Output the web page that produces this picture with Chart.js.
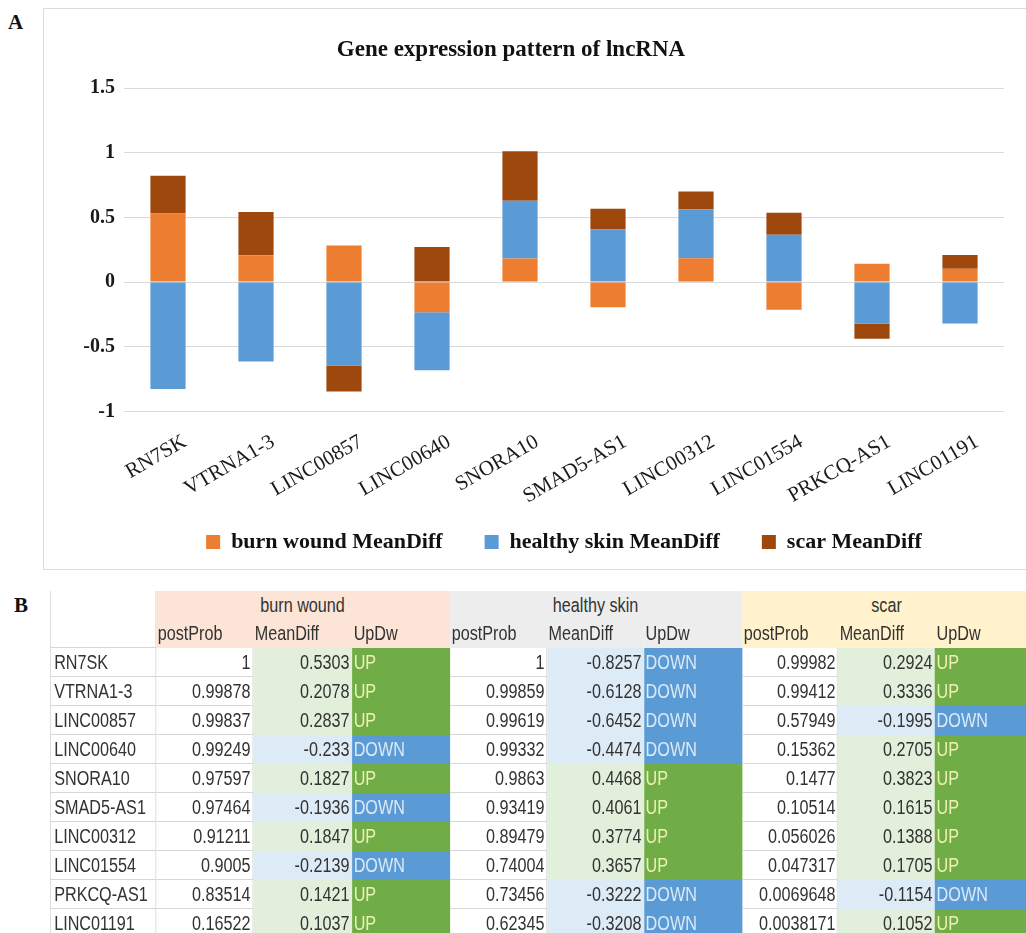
<!DOCTYPE html>
<html>
<head>
<meta charset="utf-8">
<script src="https://cdn.jsdelivr.net/npm/chart.js@4.4.1/dist/chart.umd.min.js"></script>
<style>
  body { margin: 0; width: 1026px; height: 933px; overflow: hidden; position: relative; background: #fff; }
  .panel-tag { position: absolute; font: bold 21px "Liberation Serif", serif; color: #111; }
  #frameA { position: absolute; left: 43px; top: 8px; width: 1000px; height: 560px; border: 1px solid #dcdcdc; }
  #chartWrap { position: absolute; left: 0; top: 0; width: 1004px; height: 563px; }
  /* the sheet font is a narrow one, so the whole table is squeezed horizontally */
  #tbl { position: absolute; left: 50px; top: 591px; border-collapse: separate; border-spacing: 0; table-layout: fixed;
         transform: scaleX(0.83); transform-origin: 0 0;
         font: 19.5px "Liberation Sans", Arial, sans-serif; color: #333; }
  #tbl td { box-sizing: border-box; height: 29px; padding: 0 2px; white-space: nowrap; overflow: hidden;
            border-right: 1px solid #d6d6d6; border-bottom: 1px solid #d6d6d6; line-height: 27px; }
  #tbl td.first { border-left: 1px solid #d6d6d6; padding-left: 4px; }
  #tbl td.num { text-align: right; }
  #tbl tr.sub td { height: 28px; }
</style>
</head>
<body>
<div class="panel-tag" style="left:8px; top:10px;">A</div>
<div id="frameA"></div>
<div id="chartWrap"><canvas id="lncChart"></canvas></div>
<div class="panel-tag" style="left:14px; top:593px;">B</div>
<table id="tbl"></table>

<script>
// lncRNAs, in plotting order
const genes = ['RN7SK', 'VTRNA1-3', 'LINC00857', 'LINC00640', 'SNORA10',
               'SMAD5-AS1', 'LINC00312', 'LINC01554', 'PRKCQ-AS1', 'LINC01191'];

// mean differences per condition
const burnMeanDiff    = [0.5303, 0.2078, 0.2837, -0.233, 0.1827, -0.1936, 0.1847, -0.2139, 0.1421, 0.1037];
const healthyMeanDiff = [-0.8257, -0.6128, -0.6452, -0.4474, 0.4468, 0.4061, 0.3774, 0.3657, -0.3222, -0.3208];
const scarMeanDiff    = [0.2924, 0.3336, -0.1995, 0.2705, 0.3823, 0.1615, 0.1388, 0.1705, -0.1154, 0.1052];

// posterior probabilities per condition
const burnPostProb    = [1, 0.99878, 0.99837, 0.99249, 0.97597, 0.97464, 0.91211, 0.9005, 0.83514, 0.16522];
const healthyPostProb = [1, 0.99859, 0.99619, 0.99332, 0.9863, 0.93419, 0.89479, 0.74004, 0.73456, 0.62345];
const scarPostProb    = [0.99982, 0.99412, 0.57949, 0.15362, 0.1477, 0.10514, 0.056026, 0.047317, 0.0069648, 0.0038171];

const yTicks = [-1, -0.5, 0, 0.5, 1, 1.5];

const serif = '"Liberation Serif", "Times New Roman", serif';

// the x axis box is kept short so the legend sits close under it;
// let the slanted gene names draw past that box instead of being clipped
const labelRoom = {
  id: 'labelRoom',
  beforeDraw(chart) {
    const x = chart.scales.x;
    x.bottom = x.top + 110;
  }
};

new Chart(document.getElementById('lncChart'), {
  type: 'bar',
  data: {
    labels: genes,
    datasets: [
      { label: 'burn wound MeanDiff', data: burnMeanDiff, backgroundColor: '#ed7d31' },
      { label: 'healthy skin MeanDiff', data: healthyMeanDiff, backgroundColor: '#5b9bd5' },
      { label: 'scar MeanDiff', data: scarMeanDiff, backgroundColor: '#9e480e' }
    ]
  },
  plugins: [labelRoom],
  options: {
    responsive: true,
    maintainAspectRatio: false,
    animation: false,
    layout: { padding: { left: 18, top: 0, right: 0, bottom: 0 } },
    datasets: { bar: { categoryPercentage: 1, barPercentage: 0.4 } },
    scales: {
      x: {
        stacked: true,
        grid: { display: false },
        border: { display: false },
        ticks: {
          autoSkip: false, minRotation: 30, maxRotation: 30, padding: 10, labelOffset: 17,
          color: '#1a1a1a', font: { family: serif, size: 21 }
        },
        afterFit: s => { s.height = 77.5; }
      },
      y: {
        stacked: true,
        min: yTicks[0],
        max: yTicks[yTicks.length - 1],
        afterBuildTicks: s => { s.ticks = yTicks.map(v => ({ value: v })); },
        grid: { color: '#d9d9d9', drawTicks: false },
        border: { display: false },
        ticks: {
          padding: 9, color: '#1a1a1a', font: { family: serif, size: 20, weight: 'bold' },
          callback: v => String(v)
        },
        afterFit: s => { s.width = 106; }
      }
    },
    plugins: {
      title: {
        display: true,
        text: 'Gene expression pattern of lncRNA',
        color: '#111',
        font: { family: serif, size: 23, weight: 'bold' },
        padding: { top: 36.2, bottom: 24.2 }
      },
      legend: {
        position: 'bottom',
        fullSize: false,
        labels: {
          boxWidth: 14, boxHeight: 14, padding: 42, color: '#111',
          font: { family: serif, size: 22, weight: 'bold' }
        }
      },
      tooltip: { enabled: false }
    }
  }
});

// summary table below the chart
const groups = [
  { name: 'burn wound', bg: '#fce4d6', prob: burnPostProb, diff: burnMeanDiff },
  { name: 'healthy skin', bg: '#ededed', prob: healthyPostProb, diff: healthyMeanDiff },
  { name: 'scar', bg: '#fff2cc', prob: scarPostProb, diff: scarMeanDiff }
];
const colWidths = [106, 97, 99, 98, 97, 97, 98, 96, 97, 97];
const squeeze = 0.83;

const tbl = document.getElementById('tbl');
tbl.style.width = (colWidths.reduce((a, b) => a + b, 0) / squeeze) + 'px';
const cg = document.createElement('colgroup');
colWidths.forEach(w => { const c = document.createElement('col'); c.style.width = (w / squeeze) + 'px'; cg.appendChild(c); });
tbl.appendChild(cg);

function cell(row, text, opts = {}) {
  const td = document.createElement('td');
  td.textContent = text;
  if (opts.cls) td.className = opts.cls;
  if (opts.bg) { td.style.background = opts.bg; td.style.borderColor = opts.bg; }
  if (opts.color) td.style.color = opts.color;
  if (opts.align) td.style.textAlign = opts.align;
  if (opts.colSpan) td.colSpan = opts.colSpan;
  if (opts.rowSpan) td.rowSpan = opts.rowSpan;
  row.appendChild(td);
  return td;
}

const head1 = tbl.insertRow();
cell(head1, '', { cls: 'first', rowSpan: 2 });
groups.forEach(g => cell(head1, g.name, { bg: g.bg, colSpan: 3, align: 'center' }));
const head2 = tbl.insertRow();
head2.className = 'sub';
groups.forEach(g => ['postProb', 'MeanDiff', 'UpDw'].forEach(h => cell(head2, h, { bg: g.bg })));

genes.forEach((gene, i) => {
  const tr = tbl.insertRow();
  cell(tr, gene, { cls: 'first' });
  groups.forEach(g => {
    const up = g.diff[i] > 0;
    cell(tr, String(g.prob[i]), { cls: 'num' });
    cell(tr, String(g.diff[i]), { cls: 'num', bg: up ? '#e2efda' : '#ddebf7' });
    cell(tr, up ? 'UP' : 'DOWN', { bg: up ? '#70ad47' : '#5b9bd5', color: up ? '#eef0b4' : '#dce9f6' });
  });
});
</script>
</body>
</html>
